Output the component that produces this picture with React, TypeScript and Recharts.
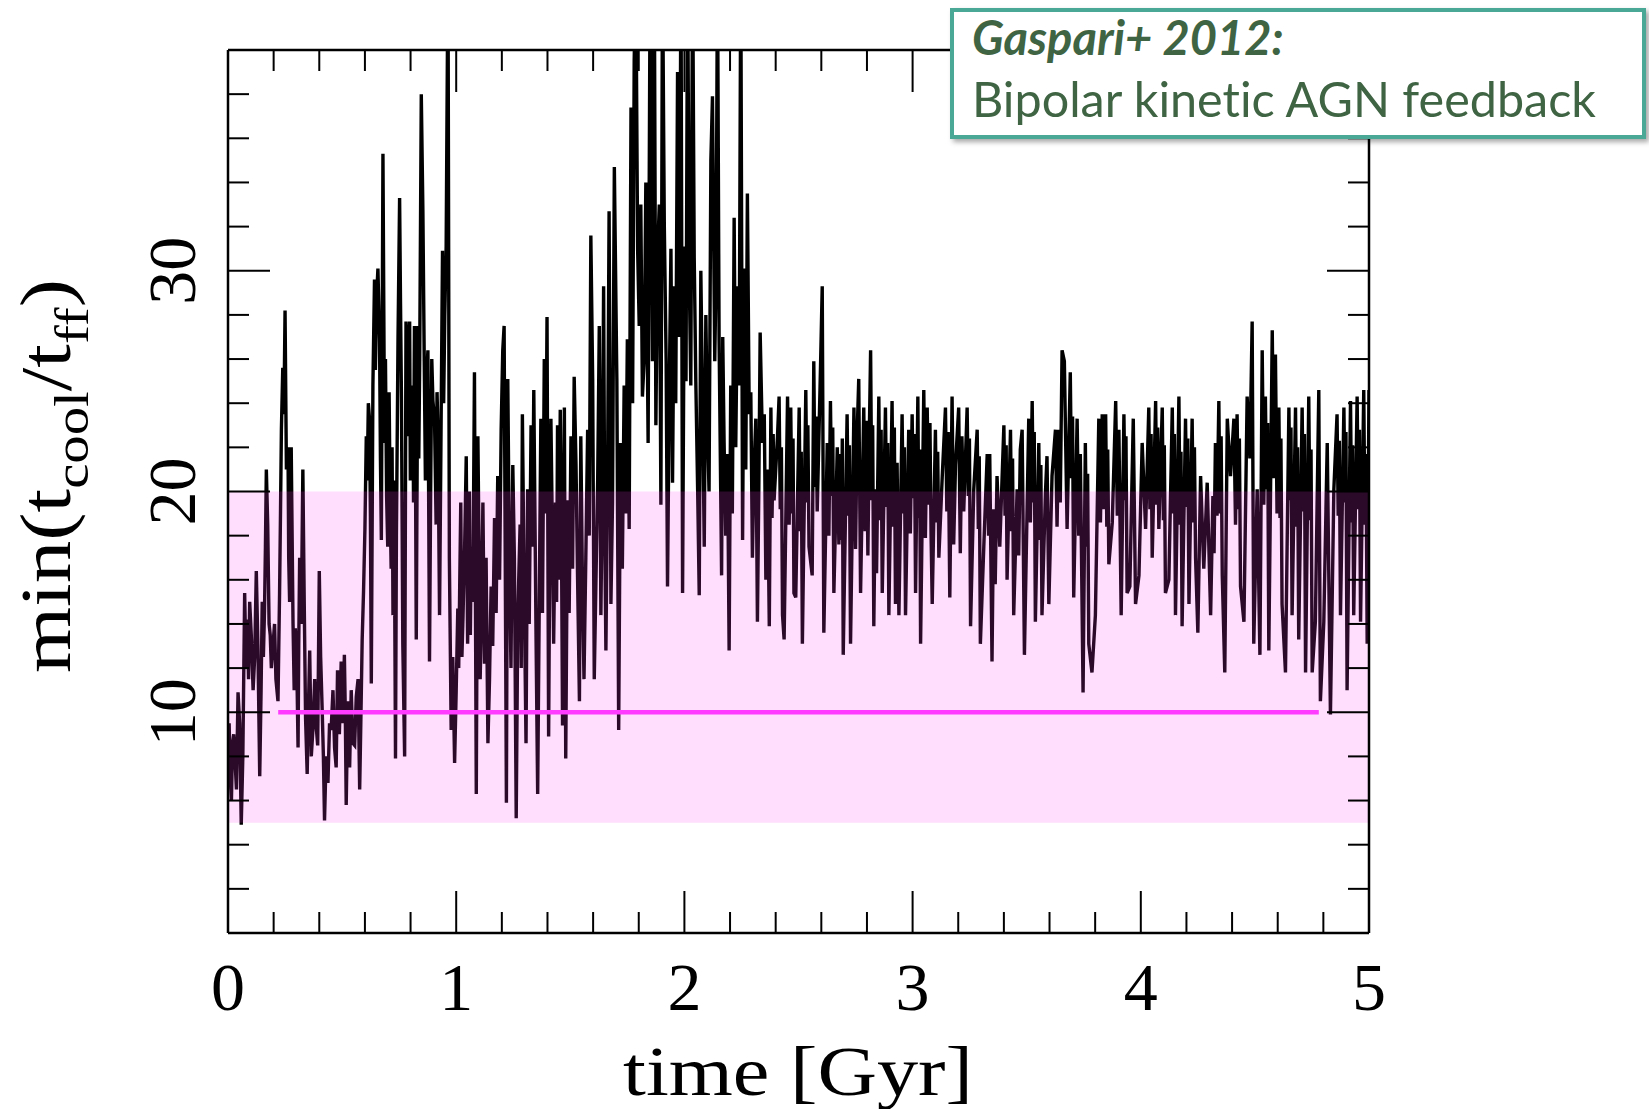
import { LineChart, Line, XAxis, YAxis, ReferenceArea, ReferenceLine } from 'recharts'

// time [Gyr]
const times = [
    0, 0.01, 0.02, 0.03, 0.044, 0.058, 0.073, 0.085, 0.095, 0.11, 0.124, 0.139, 0.15, 0.16, 0.168, 0.18, 0.19, 0.197, 0.21, 0.219,
    0.226, 0.234, 0.24, 0.25, 0.263, 0.27, 0.277, 0.285, 0.295, 0.307, 0.314, 0.328, 0.34, 0.347, 0.358, 0.372, 0.387, 0.4, 0.413, 0.423,
    0.438, 0.452, 0.467, 0.48, 0.496, 0.51, 0.518, 0.533, 0.547, 0.562, 0.577, 0.588, 0.6, 0.606, 0.62, 0.628, 0.635, 0.642, 0.657, 0.664,
    0.672, 0.679, 0.686, 0.7, 0.715, 0.723, 0.734, 0.745, 0.752, 0.76, 0.766, 0.774, 0.78, 0.796, 0.803, 0.81, 0.817, 0.825, 0.832, 0.84,
    0.847, 0.854, 0.86, 0.876, 0.883, 0.898, 0.905, 0.92, 0.927, 0.94, 0.956, 0.964, 0.97, 0.978, 0.993, 1.007, 1.015, 1.03, 1.044, 1.05,
    1.066, 1.08, 1.088, 1.095, 1.11, 1.124, 1.139, 1.153, 1.168, 1.182, 1.197, 1.204, 1.21, 1.22, 1.226, 1.233, 1.248, 1.263, 1.27, 1.29,
    1.306, 1.313, 1.328, 1.34, 1.35, 1.357, 1.371, 1.386, 1.398, 1.405, 1.415, 1.427, 1.444, 1.456, 1.466, 1.474, 1.48, 1.488, 1.503, 1.517,
    1.525, 1.54, 1.546, 1.56, 1.576, 1.59, 1.598, 1.605, 1.612, 1.627, 1.634, 1.646, 1.656, 1.67, 1.678, 1.693, 1.704, 1.712, 1.72, 1.736,
    1.75, 1.758, 1.766, 1.78, 1.787, 1.802, 1.816, 1.831, 1.841, 1.85, 1.86, 1.868, 1.882, 1.897, 1.904, 1.92, 1.926, 1.934, 1.948, 1.955,
    1.97, 1.985, 1.992, 2.0, 2.014, 2.028, 2.036, 2.043, 2.058, 2.065, 2.08, 2.087, 2.1, 2.116, 2.123, 2.133, 2.145, 2.152, 2.163, 2.174,
    2.189, 2.196, 2.203, 2.218, 2.233, 2.24, 2.247, 2.255, 2.262, 2.276, 2.284, 2.298, 2.313, 2.32, 2.332, 2.342, 2.35, 2.357, 2.372, 2.379,
    2.393, 2.408, 2.415, 2.43, 2.437, 2.452, 2.466, 2.48, 2.488, 2.503, 2.517, 2.532, 2.546, 2.56, 2.567, 2.582, 2.597, 2.604, 2.611, 2.626,
    2.64, 2.655, 2.67, 2.684, 2.696, 2.713, 2.728, 2.743, 2.764, 2.772, 2.786, 2.816, 2.83, 2.852, 2.867, 2.881, 2.896, 2.91, 2.925, 2.94,
    2.954, 2.969, 2.983, 2.998, 3.013, 3.023, 3.035, 3.049, 3.064, 3.086, 3.1, 3.115, 3.13, 3.144, 3.163, 3.173, 3.188, 3.202, 3.224, 3.239,
    3.254, 3.268, 3.283, 3.297, 3.312, 3.327, 3.338, 3.348, 3.37, 3.382, 3.4, 3.414, 3.429, 3.443, 3.458, 3.48, 3.49, 3.509, 3.524, 3.538,
    3.553, 3.567, 3.582, 3.597, 3.611, 3.626, 3.64, 3.655, 3.665, 3.677, 3.691, 3.706, 3.721, 3.735, 3.747, 3.757, 3.772, 3.786, 3.801, 3.816,
    3.831, 3.846, 3.86, 3.875, 3.89, 3.904, 3.914, 3.926, 3.94, 3.952, 3.967, 3.977, 3.992, 4.006, 4.021, 4.035, 4.05, 4.065, 4.079, 4.094,
    4.108, 4.123, 4.138, 4.152, 4.167, 4.181, 4.196, 4.211, 4.225, 4.24, 4.25, 4.262, 4.276, 4.291, 4.306, 4.327, 4.342, 4.357, 4.368, 4.379,
    4.393, 4.408, 4.422, 4.437, 4.452, 4.466, 4.478, 4.488, 4.495, 4.51, 4.522, 4.532, 4.546, 4.561, 4.576, 4.59, 4.605, 4.619, 4.634, 4.649,
    4.663, 4.678, 4.692, 4.707, 4.722, 4.736, 4.751, 4.765, 4.78, 4.787, 4.802, 4.817, 4.831, 4.846, 4.86, 4.875, 4.89, 4.904, 4.919, 4.933,
    4.948, 4.963, 4.977, 4.992, 5.0,
]

// min(t_cool / t_ff)
const ratio = [
    8.0, 7.0, 8.6, 8.0, 10.9, 4.9, 15.4, 14.2, 15.0, 11.0, 16.4, 7.1, 15.0, 14.6, 21.0, 14.0, 12.0, 13.0, 11.5, 10.5,
    15.4, 22.8, 25.6, 28.2, 22.0, 15.0, 22.0, 14.0, 13.8, 8.4, 17.0, 21.0, 9.7, 7.2, 12.8, 9.2, 9.3, 16.4, 10.0, 5.1,
    6.8, 9.2, 8.4, 11.9, 12.3, 12.6, 5.8, 7.5, 8.6, 10.7, 6.5, 13.3, 18.3, 22.5, 23.3, 11.3, 24.8, 29.6, 30.1, 26.9,
    17.8, 35.3, 22.2, 17.5, 16.5, 14.4, 7.9, 26.9, 33.3, 24.3, 13.1, 8.0, 27.7, 27.7, 23.5, 24.8, 27.5, 13.3, 27.5, 25.9,
    38.0, 32.7, 25.9, 26.4, 12.3, 24.1, 23.3, 22.8, 14.4, 30.9, 31.1, 44.0, 17.0, 9.2, 7.7, 14.7, 15.4, 14.4, 21.6, 13.1,
    17.5, 25.4, 6.3, 22.5, 14.1, 12.2, 8.6, 15.7, 18.8, 20.7, 22.8, 26.4, 27.5, 5.9, 25.1, 17.0, 21.2, 5.2, 14.4, 23.5,
    8.6, 20.1, 23.0, 24.6, 13.3, 6.3, 23.3, 26.0, 27.9, 8.9, 23.3, 13.1, 23.0, 23.7, 9.4, 23.8, 7.9, 19.6, 22.5, 25.2,
    21.2, 10.5, 22.5, 11.5, 22.8, 31.6, 25.1, 11.5, 15.7, 27.5, 14.4, 29.3, 12.8, 32.7, 14.9, 34.7, 25.1, 9.2, 22.2, 24.8,
    26.9, 18.3, 37.4, 39.5, 44.0, 27.5, 24.3, 34.0, 22.2, 44.0, 25.9, 44.0, 30.6, 19.4, 44.0, 25.9, 15.7, 24.8, 20.4, 29.3,
    39.0, 44.0, 15.4, 31.1, 44.0, 24.8, 44.0, 30.6, 20.1, 15.3, 23.5, 17.5, 23.5, 35.0, 37.9, 25.9, 44.0, 26.9, 16.2, 22.2,
    21.7, 12.8, 24.8, 32.4, 29.3, 24.8, 44.0, 17.8, 30.1, 33.5, 23.5, 17.0, 23.3, 14.1, 27.2, 22.2, 23.5, 16.0, 13.9, 23.8,
    19.6, 22.5, 24.3, 14.4, 13.3, 24.3, 23.8, 15.4, 15.2, 23.8, 13.1, 24.6, 17.5, 16.2, 25.9, 19.1, 25.9, 29.3, 13.6, 22.2,
    24.1, 15.4, 22.0, 21.7, 12.6, 23.5, 13.1, 23.8, 25.1, 15.4, 23.8, 26.4, 13.9, 24.3, 15.4, 23.8, 14.4, 24.1, 14.9, 14.4,
    23.5, 14.4, 22.8, 23.5, 15.4, 24.3, 13.1, 24.6, 23.8, 14.9, 22.8, 17.0, 20.7, 23.8, 15.2, 24.3, 21.2, 23.8, 19.1, 23.8,
    13.9, 20.1, 22.8, 13.1, 17.5, 21.7, 21.7, 12.3, 20.7, 17.5, 23.0, 16.0, 22.8, 14.4, 20.1, 22.8, 12.6, 23.3, 24.1, 14.1,
    22.2, 14.4, 19.9, 14.9, 20.7, 22.8, 22.8, 26.4, 25.9, 18.3, 25.4, 15.2, 23.3, 21.7, 10.9, 22.2, 13.1, 11.8, 14.4, 23.3,
    23.5, 23.5, 16.7, 18.6, 24.1, 22.8, 14.4, 23.5, 15.4, 15.7, 23.3, 14.9, 16.2, 22.2, 18.3, 23.8, 17.0, 24.1, 18.3, 23.8,
    15.4, 16.0, 23.8, 14.4, 24.3, 13.9, 23.3, 14.9, 23.3, 17.0, 13.6, 20.7, 16.5, 20.4, 14.4, 22.2, 24.1, 16.2, 11.8, 23.3,
    20.7, 23.3, 23.5, 15.7, 14.1, 24.3, 21.5, 27.7, 13.1, 20.1, 12.6, 26.4, 24.3, 12.8, 27.3, 26.2, 23.8, 14.9, 11.8, 23.8,
    14.4, 23.8, 13.3, 23.8, 11.8, 24.3, 11.8, 14.1, 24.6, 10.5, 14.1, 22.2, 9.9, 20.1, 23.5, 14.4, 23.8, 11.0, 24.1, 14.4,
    24.3, 14.1, 24.6, 13.1, 24.6,
]

// finer flicker before 2.4 Gyr (smaller strokes between the big swings)
const earlyFineTimes = [
    0.005, 0.015, 0.025, 0.037, 0.051, 0.065, 0.079, 0.09, 0.102, 0.117,
    0.131, 0.145, 0.155, 0.164, 0.174, 0.185, 0.204, 0.23, 0.245, 0.256,
    0.266, 0.274, 0.281, 0.29, 0.301, 0.31, 0.321, 0.334, 0.352, 0.365,
    0.38, 0.393, 0.406, 0.418, 0.43, 0.445, 0.46, 0.474, 0.488, 0.503,
    0.514, 0.525, 0.54, 0.555, 0.57, 0.582, 0.594, 0.61, 0.615, 0.624,
    0.646, 0.651, 0.668, 0.69, 0.695, 0.706, 0.711, 0.719, 0.728, 0.738,
    0.756, 0.785, 0.79, 0.799, 0.806, 0.813, 0.821, 0.836, 0.865, 0.87,
    0.888, 0.893, 0.912, 0.916, 0.933, 0.945, 0.95, 0.985, 1.0, 1.011,
    1.02, 1.025, 1.037, 1.058, 1.062, 1.073, 1.1, 1.105, 1.117, 1.131,
    1.146, 1.16, 1.175, 1.19, 1.24, 1.255, 1.28, 1.285, 1.298, 1.32,
    1.334, 1.345, 1.364, 1.378, 1.392, 1.41, 1.421, 1.435, 1.44, 1.45,
    1.461, 1.495, 1.51, 1.532, 1.553, 1.568, 1.583, 1.62, 1.64, 1.651,
    1.663, 1.685, 1.728, 1.743, 1.773, 1.795, 1.809, 1.824, 1.875, 1.89,
    1.912, 1.941, 1.962, 1.978, 2.007, 2.021, 2.05, 2.072, 2.094, 2.108,
    2.139, 2.168, 2.181, 2.21, 2.225, 2.269, 2.291, 2.305, 2.326, 2.364,
]

const earlyFineRatio = [
    9.5, 6.0, 9.0, 6.5, 9.5, 8.0, 12.0, 11.5, 13.5, 12.5,
    13.0, 11.0, 12.5, 17.5, 18.5, 13.5, 14.0, 19.0, 23.5, 21.0,
    17.0, 19.0, 18.0, 11.0, 12.5, 13.0, 14.0, 15.0, 10.0, 8.0,
    11.5, 8.5, 12.5, 8.0, 8.0, 9.5, 11.0, 7.5, 9.0, 9.5,
    10.0, 10.5, 11.0, 8.5, 11.5, 9.5, 15.5, 20.5, 24.0, 19.0,
    25.5, 28.8, 21.5, 26.0, 19.8, 24.5, 19.0, 22.0, 20.5, 18.0,
    28.5, 22.5, 26.5, 20.5, 21.0, 19.5, 22.5, 21.5, 20.5, 25.0,
    20.0, 26.0, 18.5, 24.5, 22.0, 24.0, 28.0, 12.5, 11.0, 12.0,
    19.5, 12.5, 17.5, 20.0, 13.5, 15.0, 17.5, 11.5, 19.5, 17.0,
    11.5, 13.0, 14.5, 16.0, 12.0, 17.0, 18.5, 12.0, 15.5, 14.0,
    17.5, 19.0, 15.0, 14.5, 19.0, 17.5, 18.5, 19.5, 15.0, 16.0,
    18.5, 14.5, 16.5, 16.0, 16.0, 17.0, 18.0, 20.5, 20.0, 18.0,
    20.0, 19.5, 16.5, 19.0, 24.0, 31.0, 33.0, 26.0, 23.0, 33.0,
    32.0, 31.0, 24.0, 27.0, 25.0, 30.0, 25.0, 30.0, 28.0, 20.0,
    30.0, 27.0, 18.0, 19.0, 22.0, 21.0, 24.5, 21.0, 20.0, 21.0,
]

// finer flicker in the dense stretch after 2.3 Gyr (upper strokes between the big swings)
const fineTimes = [
    2.384, 2.389, 2.42, 2.425, 2.459, 2.471, 2.476, 2.508, 2.512, 2.537, 2.541, 2.572, 2.577, 2.633, 2.645, 2.65, 2.677, 2.688, 2.692, 2.718,
    2.723, 2.75, 2.757, 2.792, 2.798, 2.804, 2.81, 2.821, 2.825, 2.837, 2.842, 2.857, 2.862, 2.886, 2.891, 2.915, 2.92, 2.932, 2.959, 2.964,
    2.99, 3.003, 3.008, 3.027, 3.031, 3.056, 3.07, 3.076, 3.081, 3.105, 3.11, 3.15, 3.156, 3.18, 3.209, 3.216, 3.244, 3.249, 3.288, 3.292,
    3.333, 3.355, 3.362, 3.405, 3.41, 3.434, 3.438, 3.465, 3.472, 3.516, 3.529, 3.533, 3.558, 3.562, 3.589, 3.633, 3.647, 3.696, 3.701, 3.728,
    3.762, 3.767, 3.823, 3.838, 3.851, 3.855, 3.897, 3.931, 3.935, 4.04, 4.045, 4.07, 4.074, 4.099, 4.103, 4.143, 4.147, 4.172, 4.176, 4.201,
    4.206, 4.23, 4.235, 4.316, 4.321, 4.334, 4.347, 4.352, 4.415, 4.427, 4.432, 4.539, 4.551, 4.556, 4.583, 4.597, 4.61, 4.614, 4.654, 4.658,
    4.683, 4.687, 4.712, 4.717, 4.741, 4.746, 4.865, 4.87, 4.895, 4.899, 4.924, 4.928, 4.953, 4.958, 4.982, 4.987,
]

const fineRatio = [
    18.8, 22.6, 19.2, 22.0, 18.5, 19.0, 22.4, 18.2, 21.8, 19.5, 23.0, 20.2, 23.4, 18.0, 19.8, 22.9, 17.6, 17.8, 22.4, 18.9,
    22.1, 17.4, 22.6, 18.2, 23.2, 17.1, 22.4, 19.6, 23.0, 20.1, 16.3, 18.7, 22.8, 19.3, 22.2, 18.4, 22.9, 21.3, 19.0, 22.0,
    18.1, 19.7, 22.6, 18.8, 21.9, 17.9, 19.4, 23.1, 18.0, 18.6, 21.8, 19.1, 22.7, 17.6, 17.2, 22.5, 19.8, 22.4, 18.3, 21.6,
    18.0, 19.2, 15.8, 18.9, 22.1, 18.2, 21.5, 17.1, 21.9, 18.6, 19.5, 22.7, 17.8, 21.2, 21.6, 18.4, 19.5, 20.6, 23.4, 18.0,
    17.5, 20.8, 18.6, 19.2, 18.4, 21.9, 18.9, 19.6, 22.5, 19.2, 22.6, 19.4, 22.9, 18.7, 22.1, 19.0, 22.6, 18.5, 21.8, 19.3,
    22.4, 18.6, 22.0, 19.8, 17.2, 18.9, 19.0, 22.5, 18.5, 19.2, 22.4, 19.4, 20.1, 23.1, 20.6, 19.0, 18.8, 22.4, 19.6, 22.9,
    18.4, 22.0, 19.1, 22.6, 18.7, 21.9, 18.9, 22.3, 19.5, 22.7, 18.6, 22.1, 19.2, 22.8, 18.5, 21.7,
]

const xTicks = [0, 0.2, 0.4, 0.6, 0.8, 1, 1.2, 1.4, 1.6, 1.8, 2, 2.2, 2.4, 2.6, 2.8, 3, 3.2, 3.4, 3.6, 3.8, 4, 4.2, 4.4, 4.6, 4.8, 5]
const yTicks = [0, 2, 4, 6, 8, 10, 12, 14, 16, 18, 20, 22, 24, 26, 28, 30, 32, 34, 36, 38, 40]
const yLabels = [10, 20, 30]

// pink band and the threshold line at 10
const bandLow = 5
const bandHigh = 20
const threshold = 10
const thresholdStart = 0.22
const thresholdEnd = 4.78

const data = [
    ...times.map((t, i) => ({ t, ratio: ratio[i] })),
    ...earlyFineTimes.map((t, i) => ({ t, ratio: earlyFineRatio[i] })),
    ...fineTimes.map((t, i) => ({ t, ratio: fineRatio[i] })),
].sort((a, b) => a.t - b.t)

const SERIF = '"Liberation Serif", "Times New Roman", serif'
const MAJOR = 42
const MINOR = 21

function isMajorX(v: number) {
    return Math.abs(v - Math.round(v)) < 1e-6
}

function BottomTick({ x, y, payload }: any) {
    const v = payload.value
    const major = isMajorX(v)
    return (
        <g>
            <line x1={x} y1={y} x2={x} y2={y - (major ? MAJOR : MINOR)} stroke="#000" strokeWidth={2} />
            {major && (
                <text x={x} y={y + 77} textAnchor="middle" fontFamily={SERIF} fontSize={68} fill="#000">
                    {v}
                </text>
            )}
        </g>
    )
}

function TopTick({ x, y, payload }: any) {
    const major = isMajorX(payload.value)
    return <line x1={x} y1={y} x2={x} y2={y + (major ? MAJOR : MINOR)} stroke="#000" strokeWidth={2} />
}

function LeftTick({ x, y, payload }: any) {
    const v = payload.value
    const major = v % 10 === 0
    const lx = x - 33
    return (
        <g>
            <line x1={x} y1={y} x2={x + (major ? MAJOR : MINOR)} y2={y} stroke="#000" strokeWidth={2} />
            {yLabels.includes(v) && (
                <text x={lx} y={y} transform={`rotate(-90 ${lx} ${y})`} textAnchor="middle" fontFamily={SERIF} fontSize={68} fill="#000">
                    {v}
                </text>
            )}
        </g>
    )
}

function RightTick({ x, y, payload }: any) {
    const major = payload.value % 10 === 0
    return <line x1={x} y1={y} x2={x - (major ? MAJOR : MINOR)} y2={y} stroke="#000" strokeWidth={2} />
}

function XTitle() {
    return (
        <text x={798} y={1095} textAnchor="middle" fontFamily={SERIF} fontSize={70} fill="#000" textLength={350} lengthAdjust="spacingAndGlyphs">
            time [Gyr]
        </text>
    )
}

function YTitle() {
    return (
        <text
            x={70}
            y={476}
            transform="rotate(-90 70 476)"
            textAnchor="middle"
            fontFamily={SERIF}
            fontSize={72}
            fill="#000"
            textLength={394}
            lengthAdjust="spacingAndGlyphs"
        >
            min(t
            <tspan fontSize={48} dy={18}>cool</tspan>
            <tspan dy={-18}>/t</tspan>
            <tspan fontSize={48} dy={18}>ff</tspan>
            <tspan dy={-18}>)</tspan>
        </text>
    )
}

const axisLine = { stroke: '#000', strokeWidth: 2.5 }

export default function App() {
    return (
        <div style={{ position: 'absolute', left: 0, top: 0, width: 1649, height: 1109, background: '#fff' }}>
            <LineChart width={1649} height={1109} data={data} margin={{ top: 50, right: 280, bottom: 175, left: 227 }}>
                <XAxis
                    xAxisId="x"
                    dataKey="t"
                    type="number"
                    domain={[0, 5]}
                    allowDataOverflow
                    ticks={xTicks}
                    interval={0}
                    height={1}
                    tickSize={0}
                    tickMargin={0}
                    tickLine={false}
                    axisLine={axisLine}
                    tick={BottomTick}
                    label={<XTitle />}
                />
                <XAxis
                    xAxisId="xTop"
                    orientation="top"
                    mirror
                    dataKey="t"
                    type="number"
                    domain={[0, 5]}
                    allowDataOverflow
                    ticks={xTicks}
                    interval={0}
                    height={1}
                    tickSize={0}
                    tickMargin={0}
                    tickLine={false}
                    axisLine={axisLine}
                    tick={TopTick}
                />
                <YAxis
                    yAxisId="y"
                    type="number"
                    domain={[0, 40]}
                    allowDataOverflow
                    ticks={yTicks}
                    interval={0}
                    width={1}
                    tickSize={0}
                    tickMargin={0}
                    tickLine={false}
                    axisLine={axisLine}
                    tick={LeftTick}
                    label={<YTitle />}
                />
                <YAxis
                    yAxisId="yRight"
                    orientation="right"
                    mirror
                    type="number"
                    domain={[0, 40]}
                    allowDataOverflow
                    ticks={yTicks}
                    interval={0}
                    width={1}
                    tickSize={0}
                    tickMargin={0}
                    tickLine={false}
                    axisLine={axisLine}
                    tick={RightTick}
                />
                <Line
                    xAxisId="x"
                    yAxisId="y"
                    type="linear"
                    dataKey="ratio"
                    stroke="#000"
                    strokeWidth={3.4}
                    dot={false}
                    isAnimationActive={false}
                />
                <ReferenceArea
                    xAxisId="x"
                    yAxisId="y"
                    x1={0}
                    x2={5}
                    y1={bandLow}
                    y2={bandHigh}
                    fill="rgb(247, 59, 235)"
                    fillOpacity={0.17}
                    stroke="none"
                    zIndex={450}
                />
                <ReferenceLine
                    xAxisId="x"
                    yAxisId="y"
                    segment={[
                        { x: thresholdStart, y: threshold },
                        { x: thresholdEnd, y: threshold },
                    ]}
                    stroke="#ff3bff"
                    strokeWidth={4.5}
                    zIndex={460}
                />
            </LineChart>
            <div
                style={{
                    position: 'absolute',
                    left: 950,
                    top: 8,
                    width: 696,
                    height: 131,
                    boxSizing: 'border-box',
                    border: '4px solid #4aa996',
                    background: '#fff',
                    boxShadow: '3px 3px 5px rgba(0, 0, 0, 0.35)',
                    color: '#3f6443',
                    fontFamily: 'Lato, "Open Sans", sans-serif',
                    fontVariantLigatures: 'none',
                }}
            >
                <div style={{ position: 'absolute', left: 18, top: 2, fontSize: 47, lineHeight: 1, fontWeight: 700, fontStyle: 'italic', whiteSpace: 'nowrap' }}>
                    Gaspari+ 2012:
                </div>
                <div style={{ position: 'absolute', left: 18, top: 62, fontSize: 48.5, lineHeight: 1, whiteSpace: 'nowrap' }}>
                    Bipolar kinetic AGN feedback
                </div>
            </div>
        </div>
    )
}
